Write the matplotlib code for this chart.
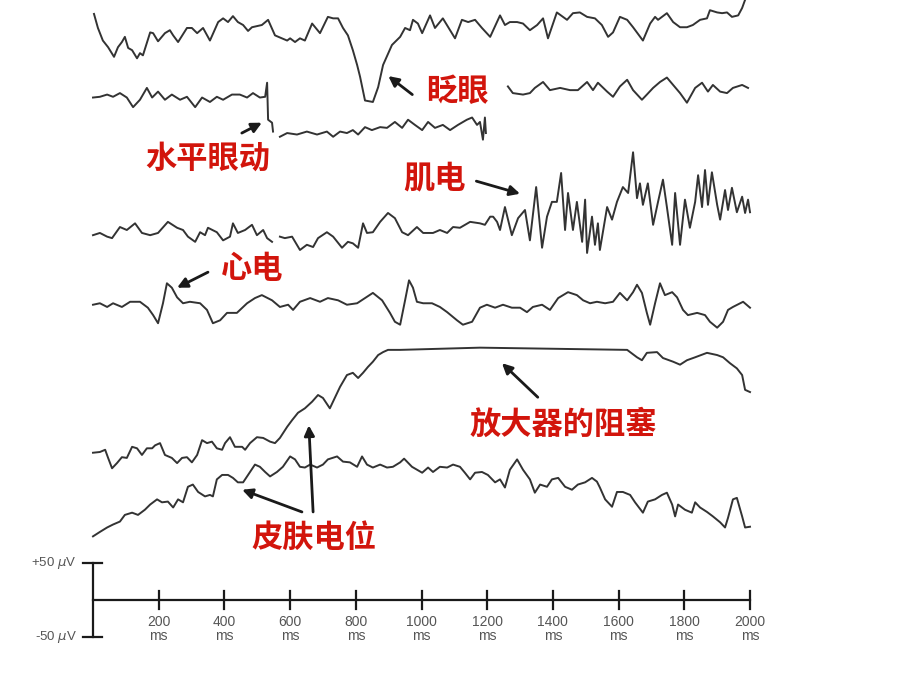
import numpy as np
import matplotlib
matplotlib.use("Agg")
import matplotlib.pyplot as plt

nan = np.nan

# --- traces: time (ms) and amplitude (µV, relative to each trace's baseline) ---
blink_t = [3, 15, 30, 46, 64, 76, 88, 97, 107, 119, 134, 143, 152, 174, 183, 198, 219, 234, 244, 259,
           286, 301, 317, 335, 356, 381, 396, 411, 426, 441, 457, 472, 484, 514, 533, 554, 575, 591, 600,
           615, 630, 645, 667, 691, 715, 731, 746, 761, 776, 791, 804, 813, 828, 852, 868, 883, 910, 935,
           950, 965, 974, 989, 1002, 1026, 1041, 1065, 1102, 1123, 1142, 1163, 1184, 1209, 1239, 1254, 1269,
           1291, 1309, 1330, 1352, 1370, 1385, 1412, 1443, 1461, 1482, 1504, 1528, 1549, 1568, 1583, 1604,
           1626, 1644, 1674, 1696, 1711, 1720, 1747, 1766, 1787, 1808, 1826, 1848, 1869, 1878, 1900, 1915,
           1930, 1945, 1964, 1976, 1985, 2000]
blink_v = [22, 3, -14, -23, -36, -23, -16, -9, -24, -27, -38, -31, -34, -3, -4, -15, -4, 0, -7, -16,
           3, 3, -4, 3, -14, 11, 16, 11, 19, 11, 7, -1, 4, 7, 14, -7, -11, -14, -11,
           -16, -11, -14, 9, -4, 18, 16, 16, 3, -7, -27, -47, -63, -95, -97, -77, -47, -20, -9,
           3, 0, 14, 9, -4, 20, 3, 16, -11, 14, 11, 14, 3, -9, 20, 7, 11,
           11, 9, 0, 7, 16, -11, 24, 14, 23, 24, 18, 16, 7, -9, -3, 18,
           14, 4, -14, 9, 18, 14, 23, 11, 4, 4, 7, 14, 16, 27, 24, 23,
           24, 18, 20, 30, 41, 51]

heog_t = [0, 21, 43, 61, 82, 103, 122, 143, 164, 180, 198, 219, 240, 265, 286, 311, 332, 356, 377, 396,
          423, 447, 469, 487, 508, 524, 530, 533, 545, 548, nan,
          569, 591, 621, 651, 682, 712, 731, 752, 773, 791, 807, 828, 849, 874, 895, 919, 941, 959, 980,
          1002, 1020, 1041, 1065, 1087, 1111, 1138, 1154, 1169, 1178, 1187, 1193, 1196, nan,
          1263, 1278, 1309, 1330, 1345, 1370, 1391, 1422, 1452, 1476, 1504, 1522, 1537, 1565, 1583, 1604,
          1626, 1644, 1671, 1686, 1705, 1726, 1747, 1766, 1787, 1808, 1833, 1854, 1872, 1887, 1909, 1930,
          1948, 1976, 1994]
heog_v = [-1, 0, 3, 0, 5, -1, -14, -4, 12, -1, 7, -4, 3, -4, 0, -14, -1, -7, 0, -4,
          3, 3, -1, 5, -1, 0, 19, -31, -35, -47, nan,
          -54, -49, -51, -47, -51, -47, -54, -47, -49, -45, -51, -41, -45, -41, -42, -34, -42, -31, -38,
          -45, -34, -42, -38, -45, -38, -31, -28, -38, -34, -58, -28, -49, nan,
          14, 5, 3, 5, 12, 20, 9, 12, 9, 9, 20, 9, 19, 7, 0, 14,
          23, 9, -4, 3, 12, 20, 26, 16, 5, -8, 12, 19, 7, 16, 7, 5,
          12, 16, 12]

emg_t = [0, 21, 43, 58, 82, 103, 128, 149, 174, 198, 228, 256, 274, 289, 311, 326, 341, 350, 377, 396,
         417, 426, 441, 463, 484, 499, 518, 530, 545, nan,
         569, 584, 606, 630, 651, 670, 685, 712, 731, 758, 776, 791, 807, 822, 834, 852, 874, 898, 919, 941,
         959, 986, 1005, 1035, 1056, 1078, 1096, 1117, 1148, 1178, 1193, 1209, 1218, 1230, 1239, 1254, 1275,
         1294, 1315, 1330, 1349, 1367, 1382, 1397, 1412, 1425, 1437, 1446, 1461, 1473, 1489, 1498, 1504,
         1519, 1528, 1537, 1543, 1565, 1580, 1595, 1613, 1629, 1644, 1656, 1665, 1674, 1689, 1705, 1720,
         1735, 1747, 1763, 1772, 1787, 1802, 1817, 1833, 1842, 1854, 1863, 1872, 1884, 1900, 1909, 1924,
         1933, 1945, 1960, 1976, 1985, 1994, 2000]
emg_v = [-7, -4, -9, -11, 4, 0, 9, -4, -7, -4, 11, 3, 0, -9, -16, -3, -7, 3, -3, -14,
         -9, 9, -4, 0, 7, -7, 0, -11, -16, nan,
         -9, -11, -9, -27, -20, -23, -11, -3, -9, -24, -16, -18, -24, 9, -4, -3, 11, 23, 16, -3,
         -7, 4, -4, -4, 0, -4, 4, 3, 11, 9, 7, 18, 18, 11, 0, 31, -7,
         16, 27, -14, 58, -24, 18, 38, 38, 77, 0, 50, 0, 38, -16, 41, -31,
         18, -20, 9, -27, 31, 14, 38, 58, 50, 105, 43, 63, 34, 63, 7, 38,
         68, 31, -20, 50, -20, 41, 3, 38, 74, 31, 81, 34, 78, 34, 14, 54,
         27, 57, 24, 45, 23, 41, 24]

ecg_t = [0, 21, 43, 61, 88, 113, 143, 167, 183, 198, 213, 225, 240, 256, 274, 295, 326, 347, 365, 387,
         408, 438, 469, 493, 514, 545, 569, 594, 609, 630, 661, 691, 715, 746, 773, 804, 828, 852, 880, 904,
         919, 935, 950, 962, 974, 986, 1005, 1032, 1056, 1078, 1108, 1126, 1154, 1178, 1199, 1224, 1248,
         1275, 1300, 1321, 1339, 1367, 1391, 1416, 1446, 1473, 1492, 1513, 1534, 1559, 1583, 1604, 1626,
         1644, 1656, 1671, 1686, 1696, 1711, 1726, 1741, 1763, 1778, 1796, 1811, 1839, 1863, 1878, 1900,
         1918, 1933, 1948, 1979, 2000]
ecg_v = [-1, 1, -4, 1, -4, 3, 3, -5, -15, -26, 1, 28, 22, 9, 1, 3, 1, -8, -26, -22,
         -12, -12, 1, 8, 12, 5, -4, -1, -8, 3, 8, 3, 8, 5, -1, 1, 8, 15, 5, -12,
         -24, -28, 5, 32, 22, 3, 1, 1, -4, -11, -22, -28, -24, -5, -1, -5, -1,
         -5, -5, -11, -4, -1, -8, 8, 16, 12, 5, 1, 3, 1, 3, 15, 5,
         16, 26, 15, -12, -28, 1, 28, 12, 16, 9, -8, -15, -12, -15, -24, -32,
         -24, -8, -4, 3, -5]

block_t = [0, 21, 37, 46, 58, 73, 88, 103, 119, 134, 149, 164, 180, 189, 204, 219, 240, 256, 271, 286,
           301, 317, 332, 347, 362, 377, 393, 402, 417, 432, 454, 463, 478, 499, 518, 539, 554, 569, 591,
           606, 624, 645, 667, 685, 700, 721, 737, 752, 773, 791, 807, 822, 837, 852, 868, 883, 898, 935,
           1178, 1626, 1656, 1671, 1686, 1717, 1735, 1766, 1787, 1808, 1833, 1869, 1900, 1918, 1939, 1960,
           1976, 1985, 2000]
block_v = [-1, 0, 3, -8, -22, -15, -7, -8, 7, 5, -4, 5, 5, 9, 12, -4, -8, -15, -8, -7,
           -14, -4, 16, 12, 14, 5, 3, 12, 20, 7, 7, 3, 12, 20, 19, 14, 12, 19, 34,
           43, 53, 59, 68, 77, 73, 59, 74, 88, 104, 107, 100, 107, 115, 122, 131, 135, 138, 138,
           141, 138, 128, 124, 134, 135, 127, 122, 118, 124, 128, 134, 131, 128, 120, 113,
           104, 84, 81]

skin_t = [0, 21, 43, 61, 82, 97, 119, 137, 158, 174, 195, 210, 228, 244, 259, 274, 289, 304, 320, 341,
          356, 365, 377, 393, 411, 426, 441, 457, 472, 493, 508, 524, 539, 560, 578, 600, 615, 630, 645,
          661, 682, 700, 715, 743, 761, 782, 804, 819, 834, 852, 874, 895, 913, 935, 947, 971, 1002, 1020,
          1035, 1056, 1078, 1096, 1117, 1132, 1148, 1163, 1184, 1202, 1224, 1239, 1254, 1269, 1291, 1309,
          1330, 1345, 1361, 1382, 1397, 1416, 1437, 1458, 1476, 1498, 1519, 1534, 1543, 1559, 1580, 1595,
          1613, 1635, 1650, 1674, 1689, 1711, 1732, 1747, 1763, 1772, 1781, 1802, 1823, 1833, 1848, 1869,
          1887, 1909, 1924, 1933, 1948, 1960, 1976, 1985, 2000]
skin_v = [-24, -18, -12, -8, -4, 5, 8, 5, 12, 19, 26, 22, 23, 15, 26, 22, 43, 46, 36, 30,
          32, 30, 53, 59, 59, 55, 49, 49, 59, 73, 70, 63, 57, 63, 70, 84, 80, 70, 69,
          73, 69, 73, 80, 84, 77, 76, 70, 84, 73, 69, 73, 69, 70, 76, 81, 70, 62, 69,
          63, 70, 69, 73, 70, 62, 53, 62, 63, 59, 49, 53, 42, 66, 80, 66,
          53, 35, 46, 43, 53, 55, 43, 39, 46, 49, 55, 50, 42, 26, 16, 36,
          36, 32, 22, 8, 23, 26, 32, 35, 19, 3, 19, 12, 8, 22, 15, 9,
          3, -5, -12, 1, 26, 28, 3, -12, -11]

# baseline of each trace above the time axis (µV)
traces = [(blink_t, blink_v, 770), (heog_t, heog_v, 680), (emg_t, emg_v, 500),
          (ecg_t, ecg_v, 400), (block_t, block_v, 200), (skin_t, skin_v, 110)]

tick_ms = [200, 400, 600, 800, 1000, 1200, 1400, 1600, 1800, 2000]

# label text, text centre (ms, µV), arrow tail, arrow head
labels = [
    ("眨眼", (1109, 687), (972, 683), (899, 708)),
    ("水平眼动", (350, 596), (453, 631), (514, 645)),
    ("肌电", (1041, 570), (1167, 566), (1300, 549)),
    ("心电", (484, 447), (350, 443), (256, 422)),
    ("放大器的阻塞", (1431, 237), (1354, 274), (1245, 320)),
    ("皮肤电位", (673, 84), (636, 119), (454, 149)),
]
extra_arrow = ((670, 119), (657, 236))

fig = plt.figure(figsize=(9.21, 6.77), dpi=100)
ax = fig.add_axes([0, 0, 1, 1])
ax.set_xlim(-283.1, 2520.5)
ax.set_ylim(-104.05, 810.8)
ax.axis("off")

for t, v, base in traces:
    ax.plot(np.array(t, dtype=float), np.array(v, dtype=float) + base,
            color="#333333", lw=1.4, solid_joinstyle="round")

red = "#d2150c"
cjk = ["Noto Sans CJK SC", "DejaVu Sans"]
aprops = dict(arrowstyle="-|>", color="#1a1a1a", lw=2.0, mutation_scale=15, shrinkA=0, shrinkB=0)
for text, pos, tail, head in labels:
    ax.text(pos[0], pos[1], text, color=red, fontsize=22.5, fontweight="bold",
            family=cjk, ha="center", va="center")
    ax.annotate("", xy=head, xytext=tail, arrowprops=aprops)
ax.annotate("", xy=extra_arrow[1], xytext=extra_arrow[0], arrowprops=aprops)

# scale bar and time axis
ax.plot([0, 2000], [0, 0], color="#1a1a1a", lw=1.6)
ax.plot([0, 0], [-50, 50], color="#1a1a1a", lw=1.6)
ax.plot([-30, 27], [50, 50], color="#1a1a1a", lw=1.6)
ax.plot([-30, 27], [-50, -50], color="#1a1a1a", lw=1.6)
for ms in tick_ms:
    ax.plot([ms, ms], [-12, 12], color="#1a1a1a", lw=1.6)
    ax.text(ms, -20, f"{ms}\nms", ha="center", va="top", fontsize=10,
            color="#555555", family="Liberation Sans", linespacing=1.0)
ax.text(-50, 50, r"+50 $\mu$V", ha="right", va="center", fontsize=9.5, color="#555555",
        family="Liberation Sans")
ax.text(-50, -50, r"-50 $\mu$V", ha="right", va="center", fontsize=9.5, color="#555555",
        family="Liberation Sans")

fig.savefig("out.png", dpi=100, facecolor="white")
